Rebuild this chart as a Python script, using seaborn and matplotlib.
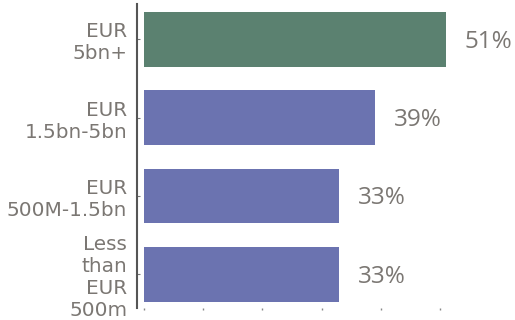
import matplotlib
matplotlib.use("Agg")
import matplotlib.pyplot as plt
import seaborn as sns
import pandas as pd

# Share of respondents by company size
categories = ["EUR\n5bn+", "EUR\n1.5bn-5bn", "EUR\n500M-1.5bn", "Less\nthan\nEUR\n500m"]
values = [51, 39, 33, 33]
colors = ["#5b8170", "#6b73b0", "#6b73b0", "#6b73b0"]
x_ticks = [0, 10, 20, 30, 40, 50]

df = pd.DataFrame({"segment": categories, "share": values})

sns.set_theme(style="white")
plt.rcParams["font.family"] = ["DejaVu Sans"]

fig = plt.figure(figsize=(5.15, 3.2), dpi=100)
ax = fig.add_axes([137 / 515, 12 / 320, 378 / 515, 304 / 320])

sns.barplot(data=df, x="share", y="segment", hue="segment", palette=colors,
            orient="h", width=0.7, legend=False, ax=ax, saturation=1,
            linewidth=0, edgecolor="none")

ax.set_xlim(-1.18, 62.7)
ax.set_ylim(3.43, -0.453)
ax.set_xlabel("")
ax.set_ylabel("")

text_grey = "#7b7773"
for i, v in enumerate(values):
    ax.text(v + 3.2, i + 0.03, f"{v}%", va="center", ha="left",
            fontsize=17.5, color=text_grey, family="Open Sans")

for s in ["top", "right", "bottom"]:
    ax.spines[s].set_visible(False)
ax.spines["left"].set_color("#555555")
ax.spines["left"].set_linewidth(1.5)

ax.set_xticks(x_ticks)
ax.set_xticklabels([])
ax.tick_params(axis="x", bottom=True, length=1.5, width=1, color="#888888", pad=0)
ax.tick_params(axis="y", left=True, direction="in", length=2, width=0.8,
               color="#777777", pad=7, labelsize=14.4, labelcolor=text_grey)
for lbl in ax.get_yticklabels():
    lbl.set_horizontalalignment("right")
    lbl.set_multialignment("right")

fig.savefig("out.png", dpi=100)
